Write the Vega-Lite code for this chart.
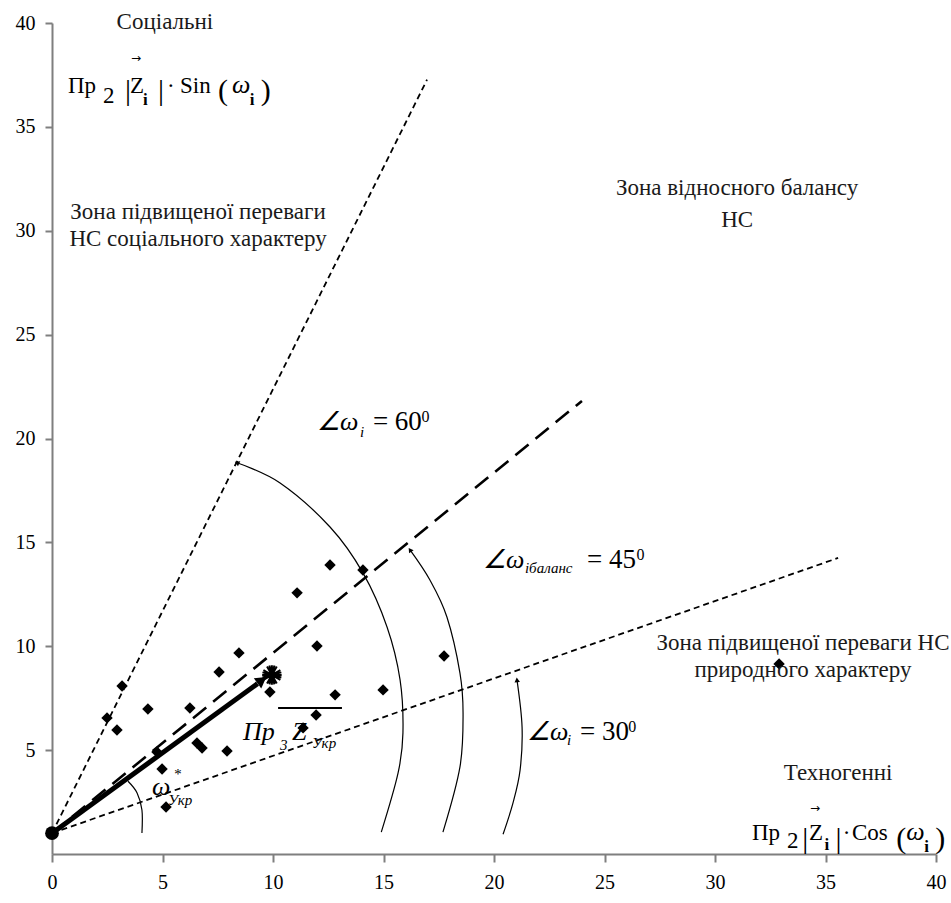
{
  "$schema": "https://vega.github.io/schema/vega-lite/v6.json",
  "width": 884,
  "height": 831,
  "autosize": {"type": "none"},
  "padding": {"left": 52, "top": 23, "right": 15, "bottom": 49},
  "background": "white",
  "config": {"view": {"stroke": null}, "font": "Liberation Serif"},
  "datasets": {
    "rays": [
      {"ray": "60", "x": 0, "y": 1}, {"ray": "60", "x": 16.97, "y": 37.27},
      {"ray": "45", "x": 0, "y": 1}, {"ray": "45", "x": 23.98, "y": 21.81},
      {"ray": "30", "x": 0, "y": 1}, {"ray": "30", "x": 35.57, "y": 14.25}
    ],
    "arcs": [
      {"arc": "a60", "i": 1, "x": 8.37, "y": 18.83}, {"arc": "a60", "i": 2, "x": 10.32, "y": 17.86},
      {"arc": "a60", "i": 3, "x": 12.58, "y": 15.74}, {"arc": "a60", "i": 4, "x": 14.07, "y": 13.53},
      {"arc": "a60", "i": 5, "x": 15.16, "y": 10.93}, {"arc": "a60", "i": 6, "x": 15.75, "y": 8.38},
      {"arc": "a60", "i": 7, "x": 15.88, "y": 5.83}, {"arc": "a60", "i": 8, "x": 15.66, "y": 3.9},
      {"arc": "a60", "i": 9, "x": 14.9, "y": 1.05},
      {"arc": "a45", "i": 1, "x": 16.2, "y": 14.64}, {"arc": "a45", "i": 2, "x": 17.1, "y": 13.19},
      {"arc": "a45", "i": 3, "x": 17.87, "y": 11.41}, {"arc": "a45", "i": 4, "x": 18.46, "y": 8.71},
      {"arc": "a45", "i": 5, "x": 18.6, "y": 6.79}, {"arc": "a45", "i": 6, "x": 18.46, "y": 4.19},
      {"arc": "a45", "i": 7, "x": 17.69, "y": 1.05},
      {"arc": "a30", "i": 1, "x": 21.04, "y": 8.38}, {"arc": "a30", "i": 2, "x": 21.27, "y": 6.11},
      {"arc": "a30", "i": 3, "x": 21.18, "y": 4.04}, {"arc": "a30", "i": 4, "x": 20.86, "y": 2.46},
      {"arc": "a30", "i": 5, "x": 20.41, "y": 0.95},
      {"arc": "aU", "i": 1, "x": 3.44, "y": 3.5}, {"arc": "aU", "i": 2, "x": 3.85, "y": 2.94},
      {"arc": "aU", "i": 3, "x": 4.07, "y": 2.12}, {"arc": "aU", "i": 4, "x": 4.07, "y": 1.01}
    ],
    "heads": [
      {"name": "a60", "x": 8.37, "y": 18.83},
      {"name": "a45", "x": 16.2, "y": 14.64},
      {"name": "a30", "x": 21.04, "y": 8.38},
      {"name": "vec", "x": 9.5, "y": 8.37}
    ],
    "vector": [{"x": 0, "y": 1}, {"x": 9.3, "y": 8.2}],
    "origin": [{"x": 0, "y": 1}],
    "star": [{"x": 9.95, "y": 8.62}],
    "overline": [{"x": 10.23, "x2": 13.12, "y": 7.03}],
    "points": [
      {"x": 2.49, "y": 6.55}, {"x": 2.94, "y": 5.97}, {"x": 3.17, "y": 8.09}, {"x": 4.34, "y": 6.98},
      {"x": 4.75, "y": 4.91}, {"x": 4.98, "y": 4.09}, {"x": 5.16, "y": 2.26}, {"x": 6.24, "y": 7.03},
      {"x": 6.56, "y": 5.34}, {"x": 6.79, "y": 5.1}, {"x": 7.92, "y": 4.96}, {"x": 7.56, "y": 8.76},
      {"x": 8.46, "y": 9.68}, {"x": 9.86, "y": 7.8}, {"x": 11.09, "y": 12.57}, {"x": 11.99, "y": 10.01},
      {"x": 12.58, "y": 13.91}, {"x": 12.81, "y": 7.66}, {"x": 11.95, "y": 6.69}, {"x": 11.36, "y": 6.07},
      {"x": 14.07, "y": 13.67}, {"x": 14.98, "y": 7.9}, {"x": 17.74, "y": 9.53}, {"x": 32.9, "y": 9.15}
    ],
    "zones": [
      {"x": 31.0, "y": 32.07, "t": "Зона відносного балансу"},
      {"x": 31.0, "y": 30.52, "t": "НС"},
      {"x": 6.61, "y": 30.91, "t": "Зона підвищеної переваги"},
      {"x": 6.61, "y": 29.61, "t": "НС соціального характеру"},
      {"x": 33.98, "y": 10.16, "t": "Зона підвищеної переваги НС"},
      {"x": 33.98, "y": 8.86, "t": "природного характеру"},
      {"x": 35.57, "y": 3.9, "t": "Техногенні"},
      {"x": 5.11, "y": 40.06, "t": "Соціальні"}
    ],
    "fMain": [
      {"x": 0.72, "y": 36.64, "t": "Пр"}, {"x": 2.31, "y": 36.16, "t": "2"}, {"x": 3.53, "y": 36.64, "t": "Z"},
      {"x": 5.2, "y": 36.64, "t": "·"}, {"x": 5.79, "y": 36.64, "t": "Sin"},
      {"x": 31.67, "y": 0.674, "t": "Пр"}, {"x": 33.26, "y": 0.29, "t": "2"}, {"x": 34.25, "y": 0.674, "t": "Z"},
      {"x": 35.78, "y": 0.674, "t": "·"}, {"x": 36.2, "y": 0.674, "t": "Cos"}
    ],
    "fDelim": [
      {"x": 3.3, "y": 36.3, "t": "|"}, {"x": 4.8, "y": 36.3, "t": "|"}, {"x": 7.51, "y": 36.3, "t": "("}, {"x": 9.45, "y": 36.3, "t": ")"},
      {"x": 33.95, "y": 0.29, "t": "|"}, {"x": 35.45, "y": 0.29, "t": "|"}, {"x": 38.2, "y": 0.29, "t": "("}, {"x": 39.97, "y": 0.29, "t": ")"}
    ],
    "fArrow": [{"x": 3.57, "y": 38.13, "t": "→"}, {"x": 34.3, "y": 2.02, "t": "→"}],
    "fBoldSub": [
      {"x": 4.12, "y": 36.06, "t": "i"}, {"x": 8.95, "y": 36.06, "t": "i"},
      {"x": 34.95, "y": 0.19, "t": "i"}, {"x": 39.47, "y": 0.1, "t": "i"}
    ],
    "fItal": [
      {"x": 11.99, "y": 20.41, "t": "∠ω"}, {"x": 19.5, "y": 13.77, "t": "∠ω"}, {"x": 21.49, "y": 5.49, "t": "∠ω"},
      {"x": 4.52, "y": 2.84, "t": "ω"}, {"x": 8.64, "y": 5.49, "t": "Пр"}, {"x": 10.86, "y": 5.49, "t": "Z"},
      {"x": 8.14, "y": 36.64, "t": "ω"}, {"x": 38.65, "y": 0.674, "t": "ω"}
    ],
    "fEq": [
      {"x": 14.52, "y": 20.41, "t": "= 60"}, {"x": 24.21, "y": 13.77, "t": "= 45"}, {"x": 23.89, "y": 5.49, "t": "= 30"}
    ],
    "fSub": [
      {"x": 13.94, "y": 20.08, "t": "i"}, {"x": 21.4, "y": 13.53, "t": "iбаланс"}, {"x": 23.3, "y": 5.25, "t": "i"},
      {"x": 5.25, "y": 2.36, "t": "Укр"}, {"x": 11.76, "y": 5.11, "t": "Укр"}, {"x": 10.32, "y": 5.01, "t": "3"},
      {"x": 5.5, "y": 3.6, "t": "*"}
    ],
    "fSup": [
      {"x": 16.72, "y": 20.8, "t": "0"}, {"x": 26.45, "y": 14.16, "t": "0"}, {"x": 26.08, "y": 5.87, "t": "0"}
    ]
  },
  "encoding": {
    "x": {
      "field": "x", "type": "quantitative",
      "scale": {"domain": [0, 40], "nice": false, "zero": false},
      "axis": {
        "values": [0, 5, 10, 15, 20, 25, 30, 35, 40], "title": null, "grid": false,
        "tickSize": 8, "labelPadding": 10, "labelFontSize": 20, "labelColor": "black",
        "labelFont": "Liberation Serif", "labelFlush": false, "labelOverlap": false,
        "domainColor": "#7f7f7f", "tickColor": "#7f7f7f", "domainWidth": 2, "tickWidth": 2
      }
    },
    "y": {
      "field": "y", "type": "quantitative",
      "scale": {"domain": [0, 40], "nice": false, "zero": false},
      "axis": {
        "values": [5, 10, 15, 20, 25, 30, 35, 40], "title": null, "grid": false,
        "tickSize": 7, "labelPadding": 10, "labelFontSize": 20, "labelColor": "black",
        "labelFont": "Liberation Serif", "labelFlush": false, "labelOverlap": false,
        "domainColor": "#7f7f7f", "tickColor": "#7f7f7f", "domainWidth": 2, "tickWidth": 2
      }
    }
  },
  "layer": [
    {
      "data": {"name": "rays"},
      "transform": [{"filter": "datum.ray !== '45'"}],
      "mark": {"type": "line", "color": "black", "strokeWidth": 1.8, "strokeDash": [6, 4]},
      "encoding": {"detail": {"field": "ray"}}
    },
    {
      "data": {"name": "rays"},
      "transform": [{"filter": "datum.ray === '45'"}],
      "mark": {"type": "line", "color": "black", "strokeWidth": 2.6, "strokeDash": [17, 9]},
      "encoding": {}
    },
    {
      "data": {"name": "arcs"},
      "mark": {"type": "line", "color": "black", "strokeWidth": 1.2, "interpolate": "cardinal"},
      "encoding": {"detail": {"field": "arc"}, "order": {"field": "i", "type": "quantitative"}}
    },
    {
      "data": {"name": "heads"},
      "transform": [{"filter": "datum.name === 'a60'"}],
      "mark": {"type": "point", "shape": "triangle-up", "filled": true, "color": "black", "opacity": 1, "size": 30, "angle": 295}
    },
    {
      "data": {"name": "heads"},
      "transform": [{"filter": "datum.name === 'a45'"}],
      "mark": {"type": "point", "shape": "triangle-up", "filled": true, "color": "black", "opacity": 1, "size": 30, "angle": 326}
    },
    {
      "data": {"name": "heads"},
      "transform": [{"filter": "datum.name === 'a30'"}],
      "mark": {"type": "point", "shape": "triangle-up", "filled": true, "color": "black", "opacity": 1, "size": 30, "angle": 354}
    },
    {
      "data": {"name": "vector"},
      "mark": {"type": "line", "color": "black", "strokeWidth": 5},
      "encoding": {}
    },
    {
      "data": {"name": "heads"},
      "transform": [{"filter": "datum.name === 'vec'"}],
      "mark": {"type": "point", "shape": "triangle-up", "filled": true, "color": "black", "opacity": 1, "size": 160, "angle": 54}
    },
    {
      "data": {"name": "points"},
      "mark": {"type": "point", "shape": "diamond", "filled": true, "color": "black", "opacity": 1, "size": 130}
    },
    {
      "data": {"name": "origin"},
      "mark": {"type": "point", "shape": "circle", "filled": true, "color": "black", "opacity": 1, "size": 190}
    },
    {
      "data": {"name": "star"},
      "mark": {"type": "point", "shape": "M-1,0L1,0M0,-1L0,1M-0.87,-0.5L0.87,0.5M-0.87,0.5L0.87,-0.5M-0.5,-0.87L0.5,0.87M-0.5,0.87L0.5,-0.87M-0.97,-0.26L0.97,0.26M-0.97,0.26L0.97,-0.26M-0.26,-0.97L0.26,0.97M-0.26,0.97L0.26,-0.97", "filled": false, "stroke": "black", "strokeWidth": 2, "opacity": 1, "size": 380}
    },
    {
      "data": {"name": "overline"},
      "mark": {"type": "rule", "color": "black", "strokeWidth": 2},
      "encoding": {"x2": {"field": "x2"}}
    },
    {
      "data": {"name": "zones"},
      "mark": {"type": "text", "align": "center", "baseline": "middle", "font": "Liberation Serif", "fontSize": 23, "color": "#1a1a1a"},
      "encoding": {"text": {"field": "t"}}
    },
    {
      "data": {"name": "fMain"},
      "mark": {"type": "text", "align": "left", "baseline": "alphabetic", "font": "Liberation Serif", "fontSize": 23, "color": "black"},
      "encoding": {"text": {"field": "t"}}
    },
    {
      "data": {"name": "fDelim"},
      "mark": {"type": "text", "align": "left", "baseline": "alphabetic", "font": "Liberation Serif", "fontSize": 30, "color": "black"},
      "encoding": {"text": {"field": "t"}}
    },
    {
      "data": {"name": "fArrow"},
      "mark": {"type": "text", "align": "left", "baseline": "alphabetic", "font": "DejaVu Sans", "fontSize": 12, "color": "black"},
      "encoding": {"text": {"field": "t"}}
    },
    {
      "data": {"name": "fBoldSub"},
      "mark": {"type": "text", "align": "left", "baseline": "alphabetic", "font": "Liberation Serif", "fontSize": 17, "fontWeight": "bold", "color": "black"},
      "encoding": {"text": {"field": "t"}}
    },
    {
      "data": {"name": "fItal"},
      "mark": {"type": "text", "align": "left", "baseline": "alphabetic", "font": "Liberation Serif", "fontSize": 26, "fontStyle": "italic", "color": "black"},
      "encoding": {"text": {"field": "t"}}
    },
    {
      "data": {"name": "fEq"},
      "mark": {"type": "text", "align": "left", "baseline": "alphabetic", "font": "Liberation Serif", "fontSize": 27, "color": "black"},
      "encoding": {"text": {"field": "t"}}
    },
    {
      "data": {"name": "fSub"},
      "mark": {"type": "text", "align": "left", "baseline": "alphabetic", "font": "Liberation Serif", "fontSize": 15, "fontStyle": "italic", "color": "black"},
      "encoding": {"text": {"field": "t"}}
    },
    {
      "data": {"name": "fSup"},
      "mark": {"type": "text", "align": "left", "baseline": "alphabetic", "font": "Liberation Serif", "fontSize": 16, "color": "black"},
      "encoding": {"text": {"field": "t"}}
    }
  ]
}
